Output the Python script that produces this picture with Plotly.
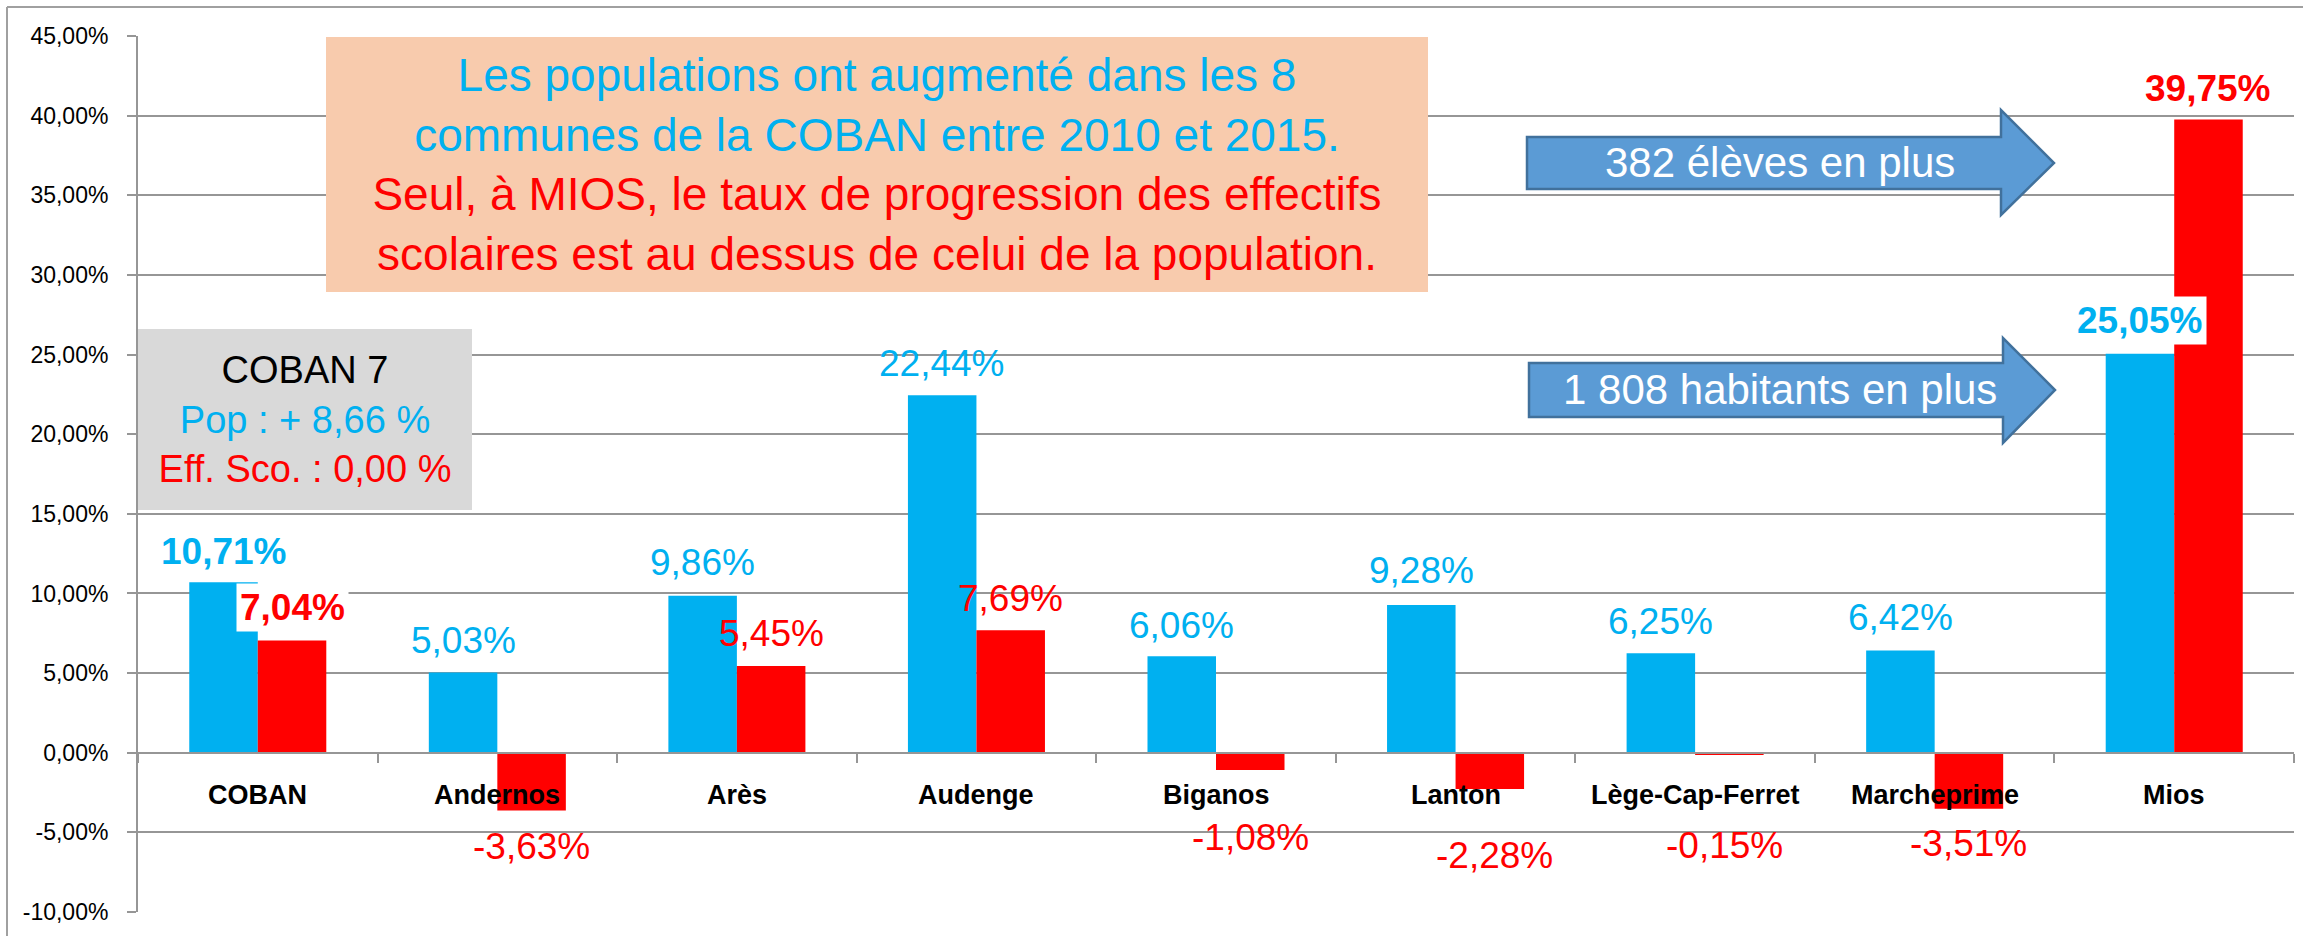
import plotly.graph_objects as go

# ---------------- data ----------------
CATEGORIES = ["COBAN", "Andernos", "Arès", "Audenge", "Biganos", "Lanton",
              "Lège-Cap-Ferret", "Marcheprime", "Mios"]
POPULATION = [10.71, 5.03, 9.86, 22.44, 6.06, 9.28, 6.25, 6.42, 25.05]   # % évolution population
EFFECTIFS = [7.04, -3.63, 5.45, 7.69, -1.08, -2.28, -0.15, -3.51, 39.75]  # % évolution effectifs scolaires
Y_TICKS = [-10, -5, 0, 5, 10, 15, 20, 25, 30, 35, 40, 45]
Y_TICK_LABELS = ["-10,00%", "-5,00%", "0,00%", "5,00%", "10,00%", "15,00%", "20,00%",
                 "25,00%", "30,00%", "35,00%", "40,00%", "45,00%"]
MAIN_NOTE_BLUE = ["Les populations ont augmenté dans les 8",
                  "communes de la COBAN entre 2010 et 2015."]
MAIN_NOTE_RED = ["Seul, à MIOS, le taux de progression des effectifs",
                 "scolaires est au dessus de celui de la population."]
COBAN_BOX = ["COBAN 7", "Pop : + 8,66 %", "Eff. Sco. : 0,00 %"]
ARROW_TEXTS = ["382 élèves en plus", "1 808 habitants en plus"]

# ---------------- style ----------------
BLUE = "#00B0F0"
RED = "#FF0000"
GRID = "#969696"
FONT = "Liberation Sans, Arial, sans-serif"
W, H = 2303, 936
ML, MR, MT, MB = 138, 9, 36, 24
PW, PH = W - ML - MR, H - MT - MB
BARGAP = 0.428
BOLD_CATS = {"COBAN", "Mios"}
POP_LABEL_DY = [31, 32, 33, 32, 31, 34, 32, 33, 33]
EFF_LABEL_DY = [33, -36, 32, 32, -68, -66, -90, -35, 31]
EFF_LABEL_DX = [0, 0, 0, 0, 0, 5, -5, 0, 0]
WHITE_BG = {("pop", "Mios"), ("eff", "COBAN")}


def px(x):
    return (x - ML) / PW


def py(y):
    return (H - MB - y) / PH


def fmt(v):
    return f"{v:.2f}".replace(".", ",") + "%"


fig = go.Figure()
fig.add_trace(go.Bar(x=CATEGORIES, y=POPULATION, marker=dict(color=BLUE, line=dict(width=0)),
                     name="Population", hoverinfo="skip"))
fig.add_trace(go.Bar(x=CATEGORIES, y=EFFECTIFS, marker=dict(color=RED, line=dict(width=0)),
                     name="Effectifs scolaires", hoverinfo="skip"))

cat_w = PW / len(CATEGORIES)
off = cat_w * (1 - BARGAP) / 4

annotations = []
# data labels
for i, c in enumerate(CATEGORIES):
    bold = c in BOLD_CATS
    for kind, vals, color, sign, dy, dx in (
            ("pop", POPULATION, BLUE, -1, POP_LABEL_DY[i], 0),
            ("eff", EFFECTIFS, RED, 1, EFF_LABEL_DY[i], EFF_LABEL_DX[i])):
        txt = fmt(vals[i])
        if bold:
            txt = "<b>" + txt + "</b>"
        a = dict(x=c, y=vals[i], xref="x", yref="y", text=txt, showarrow=False,
                 xshift=sign * off + dx, yshift=dy, xanchor="center", yanchor="middle",
                 font=dict(family=FONT, size=37, color=color))
        if (kind, c) in WHITE_BG:
            a.update(bgcolor="white", borderpad=3)
        annotations.append(a)

# category labels near the zero line
for c in CATEGORIES:
    annotations.append(dict(x=c, y=0, xref="x", yref="y", text="<b>" + c + "</b>",
                            showarrow=False, yshift=-42, xanchor="center", yanchor="middle",
                            font=dict(family=FONT, size=27, color="black")))

# main salmon note
note_text = "<br>".join([f"<span style='color:{BLUE}'>{t}</span>" for t in MAIN_NOTE_BLUE] +
                        [f"<span style='color:{RED}'>{t}</span>" for t in MAIN_NOTE_RED])
annotations.append(dict(x=px(877), y=py(164.5), xref="paper", yref="paper", text=note_text,
                        showarrow=False, xanchor="center", yanchor="middle", align="center",
                        width=1102, height=255, bgcolor="#F8CBAD", borderpad=0, borderwidth=0,
                        font=dict(family=FONT, size=46)))

# grey COBAN box
box_colors = ["black", BLUE, RED]
box_text = "<br>".join(f"<span style='color:{col}'>{t}</span>" for col, t in zip(box_colors, COBAN_BOX))
annotations.append(dict(x=px(305), y=py(419.5), xref="paper", yref="paper", text=box_text,
                        showarrow=False, xanchor="center", yanchor="middle", align="center",
                        width=334, height=181, bgcolor="#D9D9D9", borderpad=0, borderwidth=0,
                        font=dict(family=FONT, size=38)))

# arrows
shapes = []
arrows = [  # body left, body top, body bottom, head base x, head top, head bottom, tip x
    (1527, 137, 189, 2001, 110, 215, 2054),
    (1529, 363, 417, 2003, 338, 443, 2055),
]
for (x0, bt, bb, hx, ht, hb, tx), label in zip(arrows, ARROW_TEXTS):
    cy = (bt + bb) / 2
    pts = [(x0, bt), (hx, bt), (hx, ht), (tx, cy), (hx, hb), (hx, bb), (x0, bb)]
    path = "M " + " L ".join(f"{px(a):.5f},{py(b):.5f}" for a, b in pts) + " Z"
    shapes.append(dict(type="path", path=path, xref="paper", yref="paper",
                       fillcolor="#5B9BD5", line=dict(color="#41719C", width=2.5), layer="above"))
    annotations.append(dict(x=px(1780), y=py(cy), xref="paper", yref="paper", text=label,
                            showarrow=False, xanchor="center", yanchor="middle",
                            font=dict(family=FONT, size=42, color="white")))

# outer chart border (left and top edges visible)
shapes.append(dict(type="line", xref="paper", yref="paper", x0=px(7), y0=py(7), x1=px(W + 5), y1=py(7),
                   line=dict(color="#A0A0A0", width=2)))
shapes.append(dict(type="line", xref="paper", yref="paper", x0=px(7), y0=py(7), x1=px(7), y1=py(H + 5),
                   line=dict(color="#A0A0A0", width=2)))

fig.update_layout(
    width=W, height=H,
    margin=dict(l=ML, r=MR, t=MT, b=MB, pad=0),
    paper_bgcolor="white", plot_bgcolor="white",
    barmode="group", bargap=BARGAP, bargroupgap=0,
    showlegend=False, hovermode=False,
    font=dict(family=FONT, color="black"),
    annotations=annotations, shapes=shapes,
    xaxis=dict(type="category", anchor="free", position=10 / 55, showline=True,
               linecolor=GRID, linewidth=2, ticks="outside", tickson="boundaries",
               ticklen=9, tickwidth=2, tickcolor=GRID, showticklabels=False,
               showgrid=False, zeroline=False, automargin=False, fixedrange=True),
    yaxis=dict(range=[-10, 45], tickvals=Y_TICKS, ticktext=Y_TICK_LABELS,
               showgrid=True, gridcolor=GRID, gridwidth=2, zeroline=False,
               showline=True, linecolor=GRID, linewidth=2, ticks="outside", ticklen=9,
               tickwidth=2, tickcolor=GRID, ticklabelstandoff=14,
               tickfont=dict(family=FONT, size=23, color="black"),
               automargin=False, fixedrange=True, domain=[0, 1]),
)

fig.write_html("out.html", config={"displayModeBar": False},
               post_script="document.body.style.margin='0px';")
